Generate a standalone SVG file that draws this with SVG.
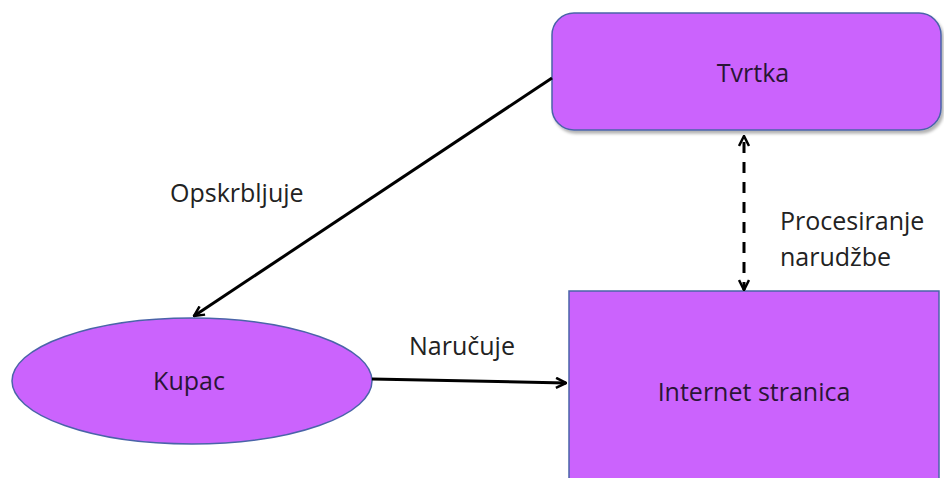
<svg xmlns="http://www.w3.org/2000/svg" width="944" height="478" viewBox="0 0 944 478">
<style>
.node{fill:#CB63FD;stroke:#4A64A8;stroke-width:1.5}
.lbl{font-family:"Open Sans","Liberation Sans",sans-serif;font-size:25px;fill:#222}
.in{font-family:"Open Sans","Liberation Sans",sans-serif;font-size:25px;fill:#2a1535;text-anchor:middle}
.conn{stroke:#000;stroke-width:3;fill:none}
</style>
<defs>
<marker id="ah" viewBox="0 0 12 12" refX="11" refY="6" markerWidth="12" markerHeight="12" markerUnits="userSpaceOnUse" orient="auto-start-reverse">
<path d="M1,1 L11,6 L1,11" fill="none" stroke="#000" stroke-width="2.5"/>
</marker>
<filter id="sh" x="-5%" y="-5%" width="115%" height="120%">
<feDropShadow dx="2" dy="3" stdDeviation="1.5" flood-color="#000" flood-opacity="0.3"/>
</filter>
</defs>
<rect width="944" height="478" fill="#fff"/>
<g id="tvrtka">
<rect class="node" x="552" y="13" width="389" height="117" rx="22" filter="url(#sh)"/>
<text class="in" x="753" y="82">Tvrtka</text>
</g>
<g id="internet-stranica">
<rect class="node" x="569" y="291" width="370" height="200"/>
<text class="in" x="754" y="401">Internet stranica</text>
</g>
<g id="kupac">
<ellipse class="node" cx="192" cy="381" rx="180" ry="63"/>
<text class="in" x="189" y="390">Kupac</text>
</g>
<g id="connectors">
<line class="conn" x1="552" y1="78" x2="194" y2="316" marker-end="url(#ah)"/>
<line class="conn" x1="372" y1="379" x2="566" y2="383" marker-end="url(#ah)"/>
<line class="conn" x1="744" y1="136" x2="744" y2="290" stroke-dasharray="11 9" stroke-dashoffset="-6" stroke-width="4" marker-start="url(#ah)" marker-end="url(#ah)"/>
</g>
<g id="labels">
<text class="lbl" x="170" y="202">Opskrbljuje</text>
<text class="lbl" x="409" y="355">Naručuje</text>
<text class="lbl" x="780" y="230">Procesiranje</text>
<text class="lbl" x="780" y="266">narudžbe</text>
</g>
</svg>
